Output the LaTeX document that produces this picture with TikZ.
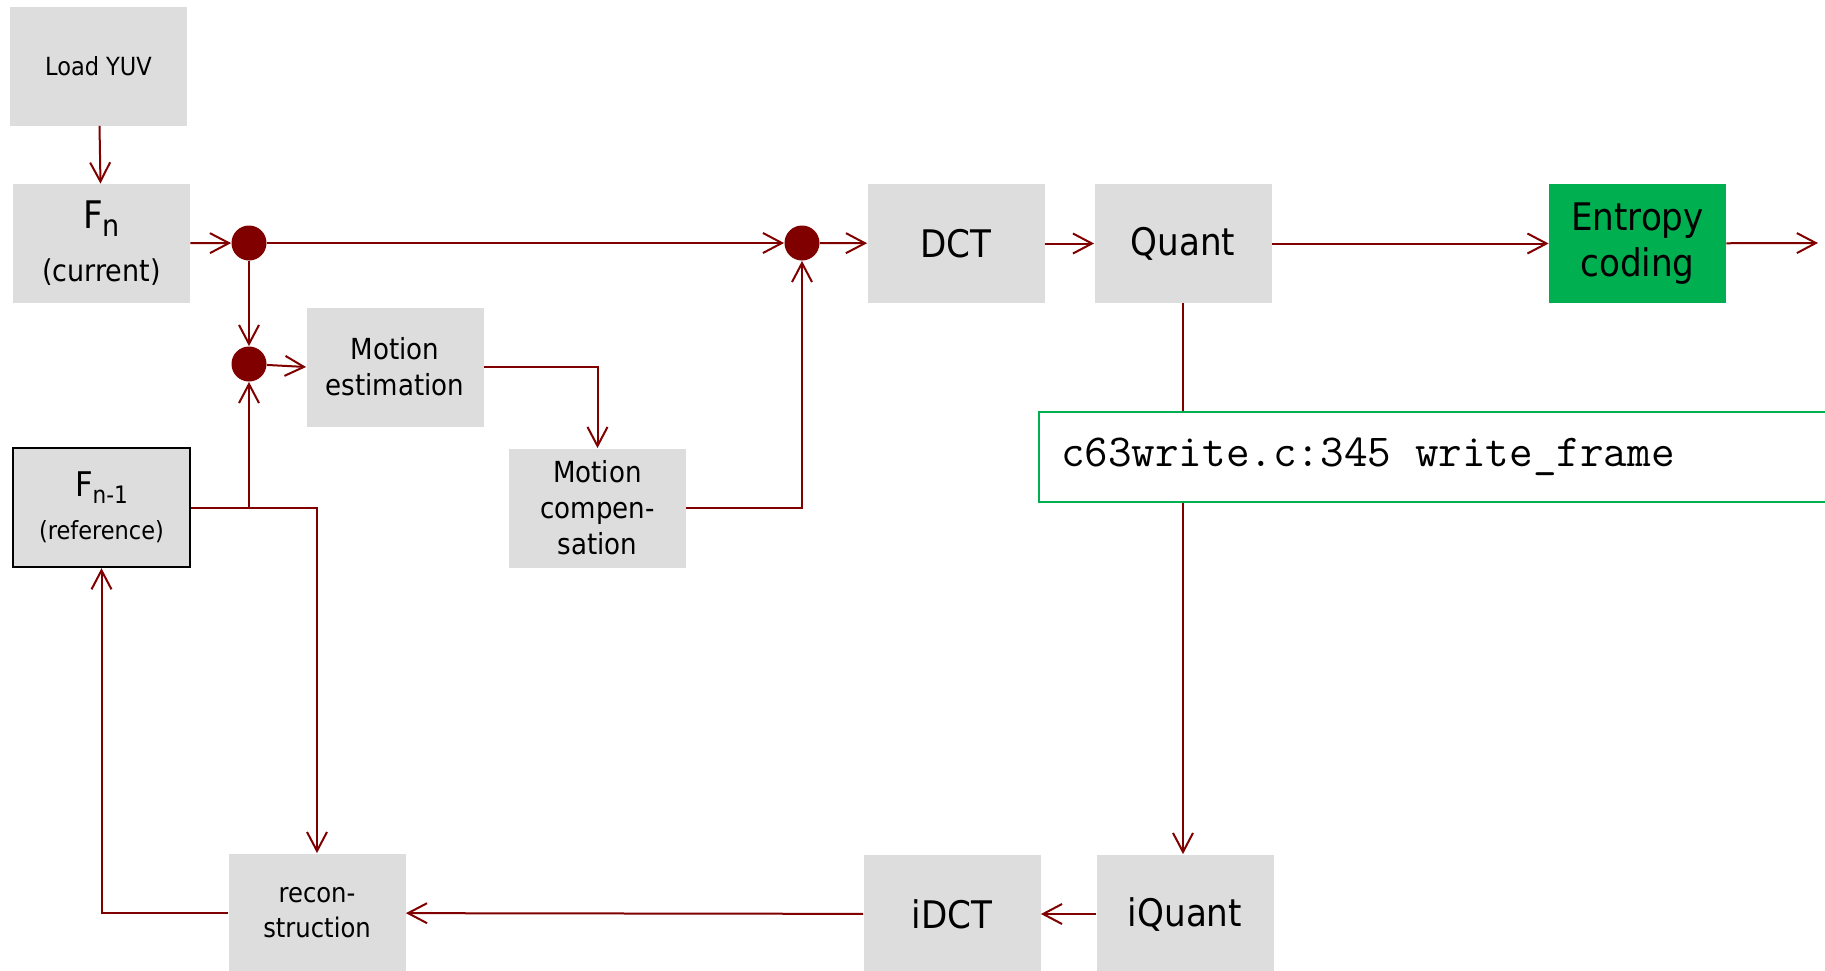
\documentclass[tikz,border=0pt]{standalone}
\usepackage{fontspec}
\setmainfont{DejaVu Sans Condensed}
\usetikzlibrary{arrows.meta}
\definecolor{wirered}{RGB}{128,0,0}
\definecolor{boxgrey}{RGB}{221,221,221}
\definecolor{codegreen}{RGB}{0,176,80}
\tikzset{
  blk/.style={fill=boxgrey, minimum width=88.5pt, minimum height=59.5pt, inner sep=0pt, align=center},
  junction/.style={circle, fill=wirered, minimum size=17.5pt, inner sep=0pt},
  flow/.style={draw=wirered, line width=1pt, -{Straight Barb[length=9.5pt,width=10pt]}},
}
\begin{document}
\begin{tikzpicture}[x=0.5pt, y=-0.5pt]
    \useasboundingbox (0,0) rectangle (1825,970);
    \clip (0,0) rectangle (1825,970);
    % upper row
    \node[blk, font=\fontsize{12.5}{15}\selectfont] (loadyuv) at (98.5,66) {Load YUV};
    \node[blk, font=\fontsize{19}{22}\selectfont] (fn) at (101.5,243.5)
      {F\raisebox{-4pt}{\fontsize{15}{15}\selectfont n}\\[4.5pt]
       \fontsize{15}{22}\selectfont (current)};
    \node[junction] (j1) at (249,243) {};
    \node[junction] (j2) at (249,364) {};
    \node[junction] (j3) at (802,243) {};
    \node[blk, font=\fontsize{14.5}{18}\selectfont] (me) at (395,367) {Motion\\estimation};
    \node[blk, draw=black, line width=1.2pt, font=\fontsize{17}{19}\selectfont] (fnm1) at (101.5,507.5)
      {F\raisebox{-3.5pt}{\fontsize{12}{12}\selectfont n-1}\\[2.5pt]
       \fontsize{12.5}{19}\selectfont (reference)};
    \node[blk, font=\fontsize{14.5}{18}\selectfont] (mc) at (597.5,508) {Motion\\compen-\\sation};
    \node[blk, font=\fontsize{19}{23}\selectfont] (dct) at (956,243.5) {DCT};
    \node[blk, font=\fontsize{19}{23}\selectfont] (quant) at (1183,243.5) {Quant};
    \node[blk, fill=codegreen, font=\fontsize{19}{23}\selectfont] (entropy) at (1637.5,243.5) {Entropy\\coding};
    \coordinate (out) at (1818,243);
    % lower row
    \node[blk, font=\fontsize{13.5}{17.5}\selectfont] (recon) at (317,913) {recon-\\struction};
    \node[blk, font=\fontsize{19}{23}\selectfont] (idct) at (952,914) {iDCT};
    \node[blk, font=\fontsize{19}{23}\selectfont] (iquant) at (1185,914) {iQuant};
    % connectors
    \draw[flow] (loadyuv) -- (fn);
    \draw[flow] (fn) -- (j1);
    \draw[flow] (j1) -- (j3);
    \draw[flow] (j1) -- (j2);
    \draw[flow] (j2) -- (me.west);
    \draw[flow] (fnm1.east) -| (j2);
    \draw[flow] (fnm1.east) -| (recon.north);
    \draw[flow] (me.east) -| (mc.north);
    \draw[flow] (mc.east) -| (j3);
    \draw[flow] (j3) -- (dct);
    \draw[flow] (dct) -- (quant);
    \draw[flow] (quant) -- (entropy);
    \draw[flow] (entropy) -- (out);
    \draw[flow] (quant.south) -- (quant.south |- iquant.north);
    \draw[flow] (iquant) -- (idct);
    \draw[flow] (idct) -- (recon);
    \draw[flow] (recon.west) -| (fnm1.south);
    % source location
    \node[draw=codegreen, line width=1pt, fill=white, anchor=west, minimum height=45pt,
          text width=381.5pt, inner xsep=11pt, align=left,
          font=\ttfamily\fontsize{22.9}{24}\selectfont] (code) at (1038,457)
      {\spaceskip=0.525em\relax c63write.c:345 write\_frame};
\end{tikzpicture}
\end{document}
